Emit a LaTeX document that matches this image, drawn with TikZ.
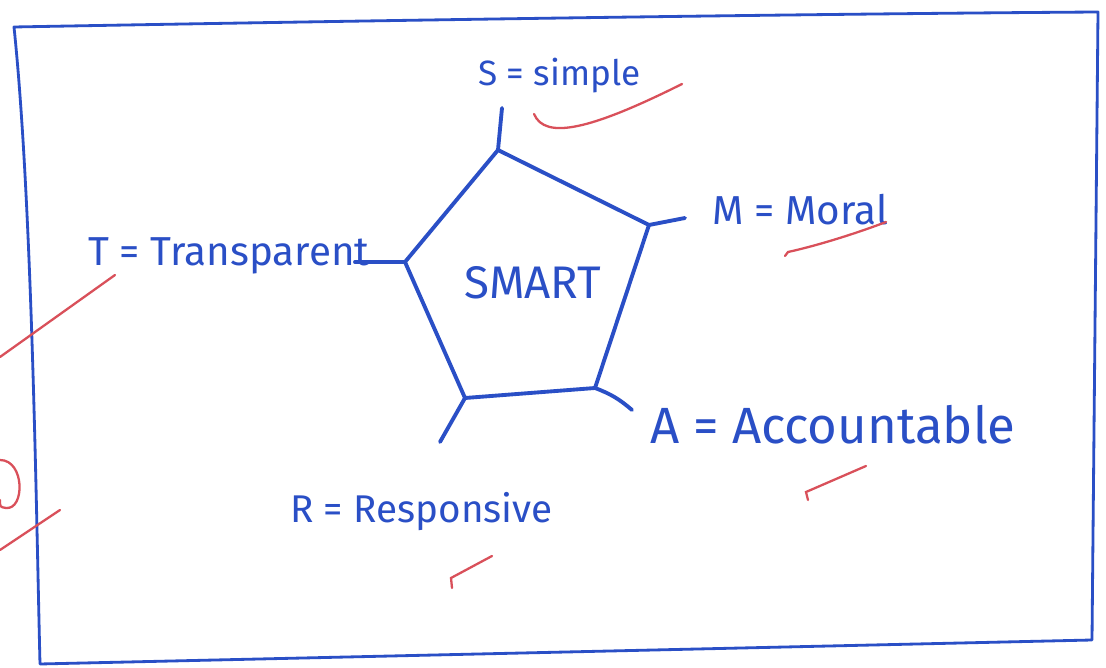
\documentclass[tikz,border=0pt]{standalone}
\usepackage{fontspec}
\setmainfont{Fira Sans}
\definecolor{ink}{HTML}{2A4FC6}
\definecolor{redpen}{HTML}{D9505A}
\tikzset{
  pen/.style={draw=ink, line width=2.2pt, line cap=round, line join=round},
  thinpen/.style={draw=ink, line width=1.6pt, line cap=round, line join=round},
  redmark/.style={draw=redpen, line width=1.3pt, line cap=round},
  lbl/.style={text=ink, inner sep=0pt, anchor=west},
}
\begin{document}
\begin{tikzpicture}[x=0.02cm,y=-0.02cm]
\useasboundingbox (0,0) rectangle (1106,668);
\fill[white] (0,0) rectangle (1106,668);
% outer hand-drawn frame
\draw[thinpen] (14,27) .. controls (400,20) and (800,14) .. (1098,12) -- (1092,640) -- (40,664) .. controls (36,500) and (32,200) .. cycle;
% pentagon corners
\coordinate (p1) at (498,150);
\coordinate (p2) at (649,225);
\coordinate (p3) at (595,388);
\coordinate (p4) at (465,398);
\coordinate (p5) at (405,262);
\draw[pen] (p1) -- (p2) -- (p3) -- (p4) -- (p5) -- cycle;
% spoke ends
\coordinate (e1) at (502,108);
\coordinate (e2) at (685,218);
\coordinate (e3) at (632,410);
\coordinate (e4) at (440,442);
\coordinate (e5) at (355,262);
\draw[pen] (p1) -- (e1);
\draw[pen] (p2) -- (e2);
\draw[pen] (p3) to[bend left=10] (e3);
\draw[pen] (p4) -- (e4);
\draw[pen] (p5) -- (e5);
% center text
\node[text=ink, inner sep=0pt, font=\fontsize{26}{30}\selectfont] (smart) at (533,283) {SMART};
% labels
\node[lbl, font=\fontsize{20}{24}\selectfont] (s) at (478,76) {S = simple};
\node[lbl, font=\fontsize{23}{27}\selectfont] (m) at (712,210) {M = Moral};
\node[lbl, font=\fontsize{23}{27}\selectfont] (t) at (88,256) {T = Transparent};
\node[lbl, font=\fontsize{29}{33}\selectfont] (a) at (650,425) {A = Accountable};
\node[lbl, font=\fontsize{22}{26}\selectfont] (r) at (290,512) {R = Responsive};
% red teacher marks
\draw[redmark] (534,114) .. controls (545,140) and (590,130) .. (682,84);
\draw[redmark] (785,256) -- (788,252) .. controls (820,245) and (860,232) .. (886,222);
\draw[redmark] (808,500) -- (806,492) -- (866,466);
\draw[redmark] (452,588) -- (451,578) -- (492,556);
\draw[redmark] (0,357) -- (115,275);
\draw[redmark] (0,550) -- (60,510);
\draw[redmark] (0,460) .. controls (25,460) and (25,510) .. (6,508) .. controls (0,507) .. (0,500);
\end{tikzpicture}
\end{document}
